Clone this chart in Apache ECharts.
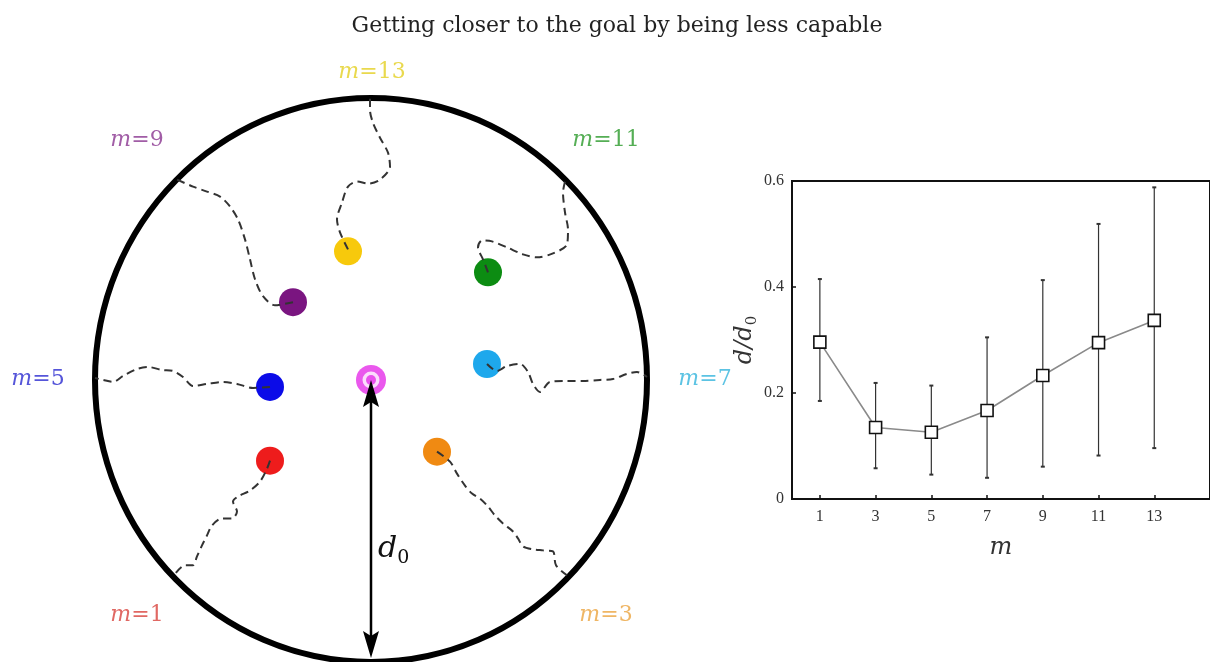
<!DOCTYPE html>
<html><head><meta charset="utf-8">
<script src="https://cdn.jsdelivr.net/npm/echarts@6/dist/echarts.min.js"></script>
<style>html,body{margin:0;padding:0;background:#fff}#c{width:1210px;height:662px}</style>
</head><body><div id="c"></div>
<script>
// ---------- data ----------
const titleText = 'Getting closer to the goal by being less capable';

// right panel: final distance d/d0 versus m
const mValues = [1, 3, 5, 7, 9, 11, 13];
const dMean = [0.296, 0.135, 0.126, 0.167, 0.233, 0.295, 0.337];
const dLow  = [0.185, 0.058, 0.046, 0.040, 0.061, 0.082, 0.096];
const dHigh = [0.415, 0.219, 0.214, 0.305, 0.413, 0.519, 0.588];
const yTicks = [0, 0.2, 0.4, 0.6];

// left panel: positions relative to the goal (units: original figure px, d0 ~ 280)
const goal = [0, 0];
const boundary = [276, 283];
const walkerM = [1, 3, 5, 7, 9, 11, 13];
const walkerEnd = [[-101, -81], [66, -72], [-101, -7], [116, 16], [-78, 78], [117, 108], [-23, 129]];
const path_m1 = [[-101,-81],[-104,-89],[-111,-102],[-121,-111],[-133,-117],[-138,-122],[-134,-132],[-139,-139],[-149,-139],[-159,-146],[-164,-156],[-169,-166],[-174,-177],[-178,-186],[-186,-186],[-197,-196]];
const path_m3 = [[66,-72],[79,-82],[86,-94],[94,-106],[101,-114],[109,-119],[117,-127],[124,-136],[132,-144],[142,-152],[147,-159],[152,-167],[162,-170],[172,-171],[182,-172],[185,-186],[196,-196]];
const path_m5 = [[-101,-7],[-118,-8],[-134,-4],[-148,-2],[-164,-4],[-178,-6],[-188,3],[-198,9],[-209,10],[-223,13],[-234,11],[-248,4],[-258,-2],[-268,0],[-276,2]];
const path_m7 = [[116,16],[126,9],[136,14],[149,16],[157,8],[162,-4],[169,-12],[179,-2],[196,-1],[212,-1],[229,0],[242,1],[256,6],[266,8],[276,3]];
const path_m9 = [[-78,78],[-96,75],[-108,84],[-116,101],[-121,121],[-126,141],[-133,161],[-141,174],[-151,184],[-164,189],[-178,194],[-194,201]];
const path_m11 = [[117,108],[112,121],[107,133],[111,140],[121,139],[136,133],[152,126],[166,123],[182,127],[196,136],[197,151],[194,168],[192,188],[194,199]];
const path_m13 = [[-23,131],[-31,148],[-34,161],[-29,178],[-23,194],[-14,199],[-3,197],[9,201],[19,214],[17,228],[9,243],[2,258],[-1,271],[-1,283]];
const walkerPaths = [path_m1, path_m3, path_m5, path_m7, path_m9, path_m11, path_m13];

// ---------- styles / layout ----------
const walkerColors = ['#ee1c1c', '#f08a12', '#0b0be8', '#1ea8ec', '#7a1580', '#0c8c12', '#f7c90c'];
const labelColors  = ['#d8423c', '#eba43e', '#2b2bd0', '#33b4dc', '#8a3590', '#2a9a2a', '#e4cf22'];
const labelPos = [[-234, -236], [235, -236], [-333, 1], [334, 1], [-234, 240], [235, 240], [1, 309]];

const serif = 'DejaVu Serif';
const tickFont = 'Liberation Serif';

const series = [];

// boundary circle
series.push({
  type: 'custom', xAxisIndex: 0, yAxisIndex: 0, clip: false, silent: true, z: 1,
  data: [[goal[0], goal[1], boundary[0], boundary[1]]],
  renderItem: (p, api) => {
    const c = api.coord([api.value(0), api.value(1)]);
    const s = api.size([api.value(2), api.value(3)]);
    return { type: 'ellipse', shape: { cx: c[0], cy: c[1], rx: s[0], ry: s[1] },
      style: { fill: 'none', stroke: '#000', lineWidth: 6 } };
  }
});

// walkers
series.push({
  type: 'scatter', xAxisIndex: 0, yAxisIndex: 0, symbolSize: 28, z: 3, silent: true,
  data: walkerEnd.map((p, i) => ({ value: p, itemStyle: { color: walkerColors[i], opacity: 1 } }))
});

// paths
walkerPaths.forEach((pth) => {
  series.push({
    type: 'line', xAxisIndex: 0, yAxisIndex: 0, data: pth, showSymbol: false, symbol: 'none',
    smooth: 0.3, z: 4, silent: true,
    lineStyle: { color: '#333', width: 2, type: [8, 5] }
  });
});

// goal target
series.push({
  type: 'scatter', xAxisIndex: 0, yAxisIndex: 0, z: 3, silent: true,
  data: [
    { value: goal, symbolSize: 30, itemStyle: { color: '#e52ee8' } },
    { value: goal, symbolSize: 17, itemStyle: { color: '#ffffff' } },
    { value: goal, symbolSize: 10, itemStyle: { color: '#e52ee8' } }
  ]
});

// d0 arrow
series.push({
  type: 'custom', xAxisIndex: 0, yAxisIndex: 0, clip: false, silent: true, z: 6,
  data: [[goal[0], goal[1], goal[0], goal[1] - boundary[1]]],
  renderItem: (p, api) => {
    const a = api.coord([api.value(0), api.value(1)]);
    const b = api.coord([api.value(2), api.value(3)]);
    b[1] -= 4;
    const head = (tip, dir) => ({
      type: 'polygon',
      shape: { points: [[tip[0], tip[1]], [tip[0] - 8, tip[1] + dir * 27], [tip[0], tip[1] + dir * 22], [tip[0] + 8, tip[1] + dir * 27]] },
      style: { fill: '#000' }
    });
    return { type: 'group', children: [
      { type: 'line', shape: { x1: a[0], y1: a[1] + 10, x2: b[0], y2: b[1] - 10 }, style: { stroke: '#000', lineWidth: 2.5 } },
      head(a, 1), head(b, -1),
      { type: 'text', x: a[0] + 7, y: a[1] + (b[1] - a[1]) * 0.6,
        style: { text: '{i|d}{s|0}', verticalAlign: 'middle', align: 'left',
          rich: { i: { fontFamily: serif, fontStyle: 'italic', fontSize: 30, fill: '#111', lineHeight: 34, verticalAlign: 'bottom' },
                  s: { fontFamily: serif, fontSize: 19, fill: '#111', verticalAlign: 'bottom', lineHeight: 22, padding: [0, 0, -4, 0] } } } }
    ] };
  }
});

// m labels
series.push({
  type: 'scatter', xAxisIndex: 0, yAxisIndex: 0, symbolSize: 0, z: 7, silent: true,
  data: labelPos.map((p, i) => ({
    value: p,
    label: {
      show: true, position: 'inside',
      formatter: '{i|m}{n|=' + walkerM[i] + '}',
      rich: {
        i: { fontFamily: serif, fontStyle: 'italic', fontSize: 22, color: labelColors[i] },
        n: { fontFamily: serif, fontSize: 22, color: labelColors[i] }
      }
    }
  }))
});

// right panel error bars
series.push({
  type: 'custom', xAxisIndex: 1, yAxisIndex: 1, silent: true, z: 3,
  data: mValues.map((m, i) => [m, dLow[i], dHigh[i]]),
  renderItem: (p, api) => {
    const lo = api.coord([api.value(0), api.value(1)]);
    const hi = api.coord([api.value(0), api.value(2)]);
    const st = { stroke: '#333', lineWidth: 1.2 };
    return { type: 'group', children: [
      { type: 'line', shape: { x1: lo[0], y1: lo[1], x2: hi[0], y2: hi[1] }, style: st },
      { type: 'line', shape: { x1: lo[0] - 2, y1: lo[1], x2: lo[0] + 2, y2: lo[1] }, style: { stroke: '#333', lineWidth: 2 } },
      { type: 'line', shape: { x1: hi[0] - 2, y1: hi[1], x2: hi[0] + 2, y2: hi[1] }, style: { stroke: '#333', lineWidth: 2 } }
    ] };
  }
});

series.push({
  type: 'line', xAxisIndex: 1, yAxisIndex: 1, z: 4, silent: true,
  data: mValues.map((m, i) => [m, dMean[i]]),
  symbol: 'rect', symbolSize: 12, showSymbol: true,
  lineStyle: { color: '#8a8a8a', width: 1.6 },
  itemStyle: { color: '#ffffff', borderColor: '#111', borderWidth: 1.6 }
});

const option = {
  backgroundColor: '#ffffff',
  animation: false,
  title: {
    text: titleText, left: 612, top: 10, textAlign: 'center',
    textStyle: { fontFamily: serif, fontSize: 22, fontWeight: 'normal', color: '#222' }
  },
  grid: [
    { left: 31, width: 680, top: 61, height: 603 },
    { left: 792, width: 421, top: 181, height: 318, show: true, borderColor: '#111', borderWidth: 2, backgroundColor: 'rgba(0,0,0,0)' }
  ],
  xAxis: [
    { gridIndex: 0, type: 'value', min: -340, max: 340, show: false },
    { gridIndex: 1, type: 'value', min: 0, max: 15,
      axisLine: { lineStyle: { color: '#111', width: 2 } },
      axisTick: { inside: true, length: 4, customValues: mValues, lineStyle: { color: '#111', width: 1.5 } },
      axisLabel: { customValues: mValues, fontFamily: tickFont, fontSize: 16, color: '#333', margin: 10 },
      splitLine: { show: false },
      name: 'm', nameLocation: 'middle', nameGap: 37,
      nameTextStyle: { fontFamily: serif, fontStyle: 'italic', fontSize: 24, color: '#333' } }
  ],
  yAxis: [
    { gridIndex: 0, type: 'value', min: -283, max: 320, show: false },
    { gridIndex: 1, type: 'value', min: yTicks[0], max: yTicks[yTicks.length - 1], interval: 0.2,
      axisLine: { show: true, lineStyle: { color: '#111', width: 2 } },
      axisTick: { show: true, inside: true, length: 4, lineStyle: { color: '#111', width: 1.5 } },
      axisLabel: { fontFamily: tickFont, fontSize: 16, color: '#333', margin: 8 },
      splitLine: { show: false },
      name: '{i|d}{n|/}{i|d}{s|0}', nameLocation: 'middle', nameRotate: 90, nameGap: 32,
      nameTextStyle: { rich: {
        i: { fontFamily: serif, fontStyle: 'italic', fontSize: 24, color: '#333', lineHeight: 28, verticalAlign: 'bottom' },
        n: { fontFamily: serif, fontStyle: 'italic', fontSize: 24, color: '#333', lineHeight: 28, verticalAlign: 'bottom' },
        s: { fontFamily: serif, fontSize: 15, color: '#333', lineHeight: 16, verticalAlign: 'bottom', padding: [0, 0, -3, 0] }
      } } }
  ],
  series: series
};
const chart = echarts.init(document.getElementById('c'), null, { renderer: 'canvas' });
chart.setOption(option);
</script>
</body></html>
